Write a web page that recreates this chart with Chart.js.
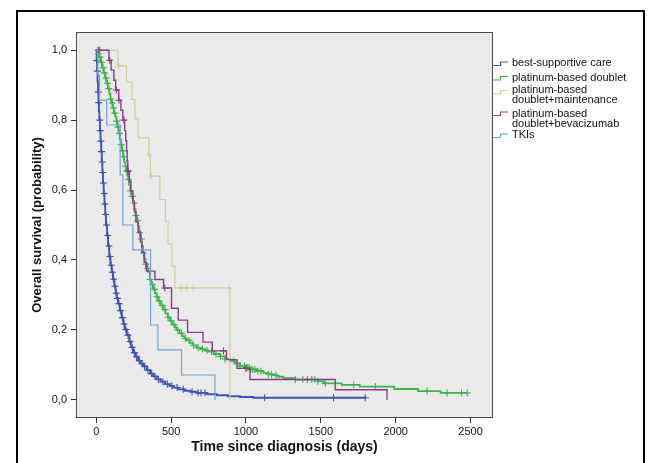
<!DOCTYPE html>
<html><head><meta charset="utf-8">
<script src="https://cdn.jsdelivr.net/npm/chart.js@4.4.1/dist/chart.umd.min.js"></script>
<style>
html,body{margin:0;padding:0;background:#fff;overflow:hidden;width:652px;height:463px}
#wrap{position:relative;width:652px;height:463px;overflow:hidden}
#c{position:absolute;left:0;top:0}
#frame{position:absolute;left:16px;top:10px;width:625px;height:600px;border:2px solid #000;pointer-events:none}
.lg{position:absolute;left:512px;font:11px "Liberation Sans",Arial,sans-serif;color:#111;white-space:nowrap;line-height:11px}
.lg2{line-height:10.3px}
#icons{position:absolute;left:0;top:0}
</style></head>
<body><div id="wrap"><canvas id="c" width="652" height="463"></canvas><div id="frame"></div>
<svg id="icons" width="652" height="463"></svg>
<div id="legend"></div>
</div>
<script>
// ---------- data ----------
const seriesNames = [
  ["best-supportive care"],
  ["platinum-based doublet"],
  ["platinum-based", "doublet+maintenance"],
  ["platinum-based", "doublet+bevacizumab"],
  ["TKIs"]
];
const seriesColors = ['#3f55b5', '#3db54a', '#d2d092', '#8c3d8c', '#72a3d6'];

const xTicks = [0, 500, 1000, 1500, 2000, 2500];
const yTicks = [0, 0.2, 0.4, 0.6, 0.8, 1.0];
const yTickLabels = ['0,0', '0,2', '0,4', '0,6', '0,8', '1,0'];

// best-supportive care
const bscTimes = [0,3,6,9,12,15,18,21,25,29,33,37,41,45,50,55,60,65,72,79,87,95,104,112,121,130,138,146,158,170,181,191,205,220,233,246,262,280,296,313,336,360,380,403,430,460,490,514,550,590,630,671,740,805,880,960,1050,1797];
const bscSurv  = [1,0.97,0.94,0.91,0.88,0.85,0.825,0.80,0.77,0.74,0.71,0.68,0.65,0.62,0.59,0.56,0.53,0.50,0.47,0.44,0.41,0.385,0.365,0.345,0.325,0.305,0.29,0.275,0.255,0.235,0.217,0.201,0.185,0.167,0.15,0.135,0.123,0.112,0.104,0.096,0.085,0.075,0.067,0.059,0.052,0.045,0.04,0.035,0.03,0.026,0.023,0.02,0.016,0.013,0.01,0.008,0.006,0.006];
const bscCensor = [4,8,14,17,24,27,31,36,40,44,48,53,58,63,70,77,85,92,100,108,116,125,134,142,152,162,175,186,198,212,226,240,255,270,288,305,322,345,370,392,415,445,475,505,540,581,640,681,700,726,1125,1585,1797];

// platinum-based doublet
const pbdTimes = [0,10,20,30,40,50,60,68,78,88,95,102,110,118,127,135,142,150,157,165,172,179,187,195,202,208,213,220,228,236,246,255,263,272,280,288,296,305,313,322,330,340,347,358,368,380,392,403,415,430,447,462,478,492,510,525,537,555,575,590,604,625,648,671,700,725,748,785,827,860,894,925,960,995,1027,1070,1116,1150,1183,1215,1250,1330,1480,1520,1640,1760,1990,2150,2300,2480];
const pbdSurv  = [1,0.99,0.98,0.965,0.95,0.935,0.92,0.905,0.89,0.875,0.86,0.849,0.835,0.82,0.81,0.797,0.78,0.762,0.745,0.73,0.712,0.695,0.68,0.668,0.655,0.642,0.63,0.615,0.598,0.582,0.562,0.545,0.527,0.512,0.497,0.478,0.46,0.44,0.42,0.402,0.388,0.376,0.366,0.344,0.33,0.316,0.305,0.295,0.283,0.27,0.258,0.247,0.236,0.226,0.215,0.207,0.2,0.19,0.182,0.176,0.17,0.163,0.156,0.149,0.145,0.141,0.138,0.131,0.124,0.117,0.111,0.104,0.097,0.092,0.087,0.082,0.077,0.073,0.07,0.066,0.062,0.058,0.053,0.047,0.043,0.038,0.031,0.025,0.02,0.02];
const pbdCensor = [15,25,35,45,55,65,75,85,97,106,115,125,136,146,155,166,176,185,196,206,216,228,240,252,265,278,290,302,316,330,345,360,375,390,405,420,440,460,480,500,520,545,570,595,620,650,680,710,740,770,800,830,860,920,960,990,1002,1012,1022,1032,1045,1060,1080,1100,1150,1170,1200,1330,1380,1410,1440,1460,1480,1530,1720,1864,2210,2343,2440,2478];

// platinum-based doublet + maintenance
const pbmTimes = [0,145,202,238,258,280,352,362,425,462,480,505,525,893];
const pbmSurv  = [1,0.955,0.909,0.859,0.805,0.75,0.70,0.64,0.573,0.51,0.447,0.383,0.32,0];
const pbmCensor = [30,150,356,368,566,604,648,890];

// platinum-based doublet + bevacizumab
const pbbTimes = [0,85,100,118,130,150,165,178,190,197,203,207,211,222,232,245,255,265,280,295,305,320,335,392,450,503,548,610,713,775,870,940,1027,1596,1942];
const pbbSurv  = [1,0.971,0.943,0.914,0.886,0.857,0.828,0.80,0.77,0.741,0.712,0.683,0.654,0.625,0.596,0.567,0.538,0.509,0.48,0.451,0.422,0.393,0.368,0.344,0.32,0.262,0.228,0.193,0.165,0.14,0.115,0.09,0.058,0.029,0];
const pbbCensor = [12,20,90,135,152,185,213,458,850,1000];

// TKIs
const tkiTimes = [0,10,22,70,160,178,245,363,412,570,793];
const tkiSurv  = [1,0.929,0.857,0.786,0.643,0.5,0.429,0.214,0.143,0.071,0];
const tkiCensor = [];

// ---------- build ----------
const FONT = '"Liberation Sans", Arial, sans-serif';
const curves = [
  {t: bscTimes, s: bscSurv, c: bscCensor, w: 1.9},
  {t: pbdTimes, s: pbdSurv, c: pbdCensor, w: 1.8},
  {t: pbmTimes, s: pbmSurv, c: pbmCensor, w: 1.2},
  {t: pbbTimes, s: pbbSurv, c: pbbCensor, w: 1.4},
  {t: tkiTimes, s: tkiSurv, c: tkiCensor, w: 1.2}
];
function survAt(times, surv, t) {
  let v = surv[0];
  for (let i = 0; i < times.length; i++) { if (times[i] <= t) v = surv[i]; else break; }
  return v;
}
const datasets = [];
curves.forEach((cv, k) => {
  datasets.push({
    type: 'line', label: seriesNames[k].join(' '),
    data: cv.t.map((t, i) => ({x: t, y: cv.s[i]})),
    stepped: 'before', borderColor: seriesColors[k], borderWidth: cv.w,
    pointRadius: 0, fill: false, tension: 0, order: 10 - k
  });
  datasets.push({
    type: 'scatter', label: seriesNames[k].join(' ') + ' censored',
    data: cv.c.map(t => ({x: t, y: survAt(cv.t, cv.s, t)})),
    showLine: false, pointStyle: 'cross', pointRadius: 3.5, pointHoverRadius: 3.5,
    borderColor: seriesColors[k], borderWidth: 1.1, order: 10 - k
  });
});

const plotBox = {
  id: 'plotBox',
  beforeDraw(chart) {
    const {ctx, chartArea: a} = chart;
    ctx.save(); ctx.fillStyle = '#eaeaea';
    ctx.fillRect(a.left, a.top, a.right - a.left, a.bottom - a.top);
    ctx.restore();
  },
  afterDraw(chart) {
    const {ctx, chartArea: a} = chart;
    ctx.save(); ctx.strokeStyle = '#4a4a4a'; ctx.lineWidth = 1;
    ctx.strokeRect(Math.round(a.left) + 0.5, Math.round(a.top) + 0.5,
      Math.round(a.right - a.left) - 1, Math.round(a.bottom - a.top) - 1);
    ctx.restore();
  }
};

new Chart(document.getElementById('c'), {
  data: {datasets},
  options: {
    responsive: false, animation: false, devicePixelRatio: 1,
    layout: {padding: {left: 0, top: 32, right: 159, bottom: 0}},
    plugins: {legend: {display: false}, tooltip: {enabled: false}},
    events: [],
    scales: {
      x: {
        type: 'linear', min: -135, max: 2650,
        afterBuildTicks: s => { s.ticks = xTicks.map(v => ({value: v})); },
        afterFit: s => { s.height = 45; },
        ticks: {font: {family: FONT, size: 11}, color: '#111', padding: 2, maxRotation: 0, autoSkip: false,
                callback: v => String(v)},
        grid: {display: true, drawOnChartArea: false, drawTicks: true, tickLength: 5, color: '#333'},
        border: {display: false},
        title: {display: true, text: 'Time since diagnosis (days)', color: '#111',
                font: {family: FONT, size: 14, weight: 'bold'}, padding: {top: 0, bottom: 7}}
      },
      y: {
        type: 'linear', min: -0.052, max: 1.052,
        afterBuildTicks: s => { s.ticks = yTicks.map(v => ({value: v})); },
        afterFit: s => { s.width = 76; },
        ticks: {font: {family: FONT, size: 11}, color: '#111', padding: 4, autoSkip: false,
                callback: (v, i) => yTickLabels[i]},
        grid: {display: true, drawOnChartArea: false, drawTicks: true, tickLength: 5, color: '#333'},
        border: {display: false},
        title: {display: true, text: 'Overall survival (probability)', color: '#111',
                font: {family: FONT, size: 13, weight: 'bold'}, padding: {top: 30, bottom: 0}}
      }
    }
  },
  plugins: [plotBox]
});

// ---------- legend (HTML text + small step icons) ----------
const legendTops = [57.2, 71.5, 83.5, 107.5, 129.2];
const iconHigh = [62, 76.5, 90.5, 112, 134];
const legend = document.getElementById('legend');
const svg = document.getElementById('icons');
seriesNames.forEach((lines, k) => {
  const d = document.createElement('div');
  d.className = 'lg' + (lines.length > 1 ? ' lg2' : '');
  d.style.top = legendTops[k] + 'px';
  d.innerHTML = lines.join('<br>');
  legend.appendChild(d);
  const hy = iconHigh[k], ly = hy + 3.5;
  const pl = document.createElementNS('http://www.w3.org/2000/svg', 'polyline');
  pl.setAttribute('points', `493,${ly} 500.5,${ly} 500.5,${hy} 508,${hy}`);
  pl.setAttribute('fill', 'none');
  pl.setAttribute('stroke', seriesColors[k]);
  pl.setAttribute('stroke-width', '1.2');
  svg.appendChild(pl);
});
</script>
</body></html>
